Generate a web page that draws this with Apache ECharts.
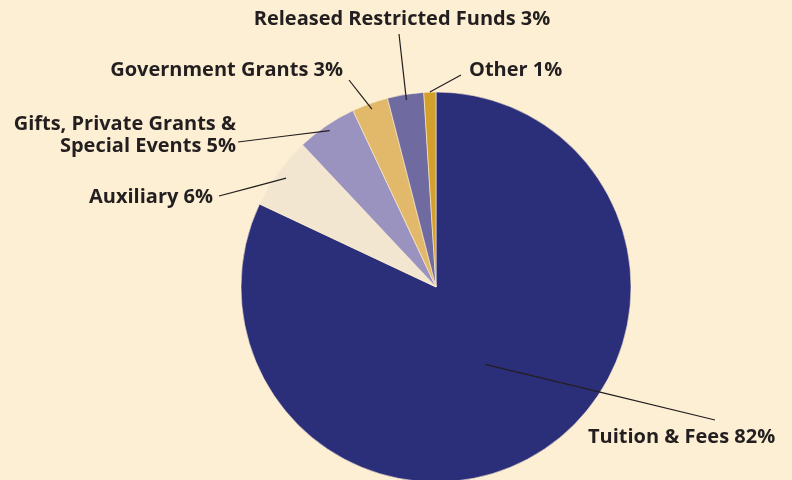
<!DOCTYPE html>
<html><head><meta charset="utf-8">
<script src="https://cdn.jsdelivr.net/npm/echarts@6/dist/echarts.min.js"></script>
<style>html,body{margin:0;padding:0;background:#fdefd3;}#c{width:792px;height:480px;}</style>
</head><body><div id="c"></div>
<script>
const categories = ['Tuition & Fees', 'Auxiliary', 'Gifts, Private Grants &\nSpecial Events', 'Government Grants', 'Released Restricted Funds', 'Other'];
const values = [82, 6, 5, 3, 3, 1];
const colors = ['#2b2e78', '#f3e6d0', '#9a93bf', '#e2b96a', '#6f6aa0', '#d4a02c'];

// label placement (anchor x, y, align, leader end x, y, leader start radius fraction)
const labelPlace = [
  {x: 588, y: 437, align: 'left',   ex: 715, ey: 420, rf: 0.47},
  {x: 213, y: 197, align: 'right',  ex: 219, ey: 196, rf: 0.95},
  {x: 236, y: 135, align: 'right',  ex: 238, ey: 142, rf: 0.97},
  {x: 343, y: 70,  align: 'right',  ex: 349, ey: 80,  rf: 0.97},
  {x: 402, y: 19,  align: 'center', ex: 399, ey: 34,  rf: 0.97},
  {x: 469, y: 70,  align: 'left',   ex: 461, ey: 75,  rf: 1.0}
];
const CX = 436, CY = 287, R = 195;
const total = values.reduce((a, b) => a + b, 0);
function midAngle(i) {
  let acc = 0;
  for (let k = 0; k < i; k++) acc += values[k];
  return (acc + values[i] / 2) / total * 2 * Math.PI; // clockwise from top
}

const base = {
  type: 'pie',
  center: [CX, CY],
  radius: R,
  startAngle: 90,
  clockwise: true,
  avoidLabelOverlap: false,
  emphasis: {disabled: true}
};

const chart = echarts.init(document.getElementById('c'));
chart.setOption({
  backgroundColor: '#fdefd3',
  animation: false,
  series: [
    Object.assign({}, base, {
      z: 2,
      itemStyle: {borderColor: '#fdefd3', borderWidth: 0.6},
      label: {show: false},
      labelLine: {show: false},
      data: categories.map((c, i) => ({name: c, value: values[i], itemStyle: {color: colors[i]}}))
    }),
    Object.assign({}, base, {
      z: 5,
      silent: true,
      itemStyle: {color: 'rgba(0,0,0,0)'},
      label: {
        show: true,
        position: 'outside',
        formatter: p => p.name + ' ' + p.value + '%',
        color: '#231f20',
        fontFamily: 'Open Sans',
        fontWeight: 'bold',
        fontSize: 20,
        lineHeight: 22
      },
      labelLine: {show: true, lineStyle: {color: '#231f20', width: 1.2}},
      labelLayout: function (params) {
        const i = params.dataIndex;
        const lp = labelPlace[i];
        const a = midAngle(i);
        const sx = CX + Math.sin(a) * R * lp.rf;
        const sy = CY - Math.cos(a) * R * lp.rf;
        return {
          x: lp.x, y: lp.y, align: lp.align, verticalAlign: 'middle',
          labelLinePoints: [[sx, sy], [(sx + lp.ex) / 2, (sy + lp.ey) / 2], [lp.ex, lp.ey]]
        };
      },
      data: categories.map((c, i) => ({name: c, value: values[i]}))
    })
  ]
});
</script>
</body></html>
